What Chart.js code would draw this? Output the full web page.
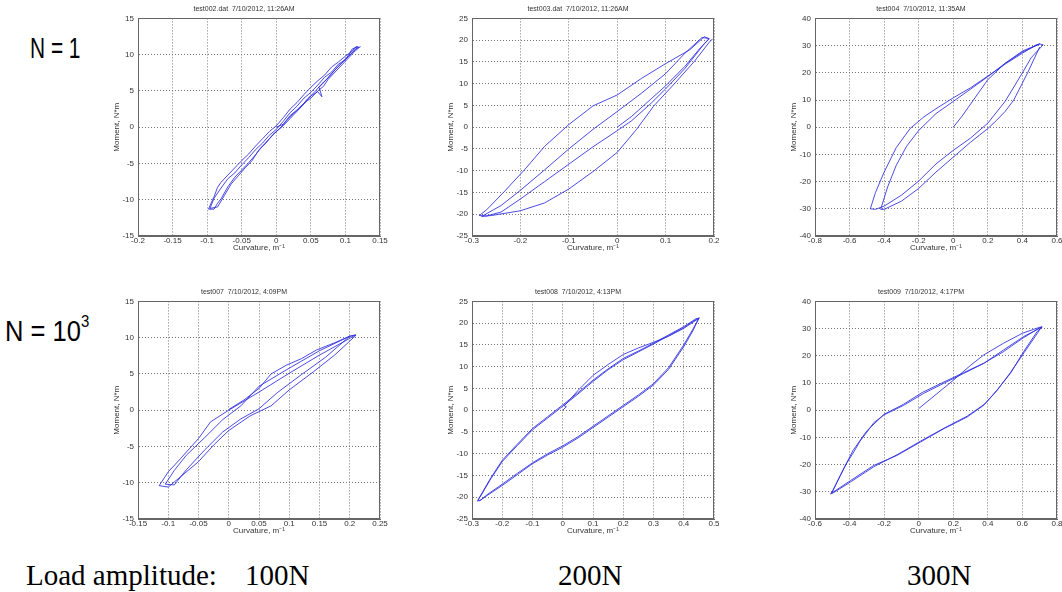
<!DOCTYPE html>
<html><head><meta charset="utf-8">
<script src="https://cdn.jsdelivr.net/npm/chart.js@4/dist/chart.umd.min.js"></script>
<style>
html,body{margin:0;padding:0;background:#fff;width:1062px;height:592px;overflow:hidden;position:relative}
canvas{position:absolute}
.rowlab{position:absolute;font-family:"Liberation Sans",Arial,sans-serif;font-size:29px;line-height:1;transform-origin:0 0;white-space:nowrap;color:#000}
.rowlab sup{font-size:17px;vertical-align:0;position:relative;top:-14px}
.bot{position:absolute;font-family:"Liberation Serif","Times New Roman",serif;font-size:29px;line-height:1;white-space:nowrap;color:#000}
</style></head><body>
<div class="rowlab" style="left:30px;top:34px;transform:scaleX(0.72)">N = 1</div>
<div class="rowlab" style="left:5px;top:317px;transform:scaleX(0.88)">N = 10<sup>3</sup></div>
<div class="bot" style="left:26px;top:561px">Load amplitude:</div>
<div class="bot" style="left:245px;top:561px">100N</div>
<div class="bot" style="left:558px;top:561px">200N</div>
<div class="bot" style="left:907px;top:561px">300N</div>
<canvas id="c1"></canvas><canvas id="c2"></canvas><canvas id="c3"></canvas>
<canvas id="c4"></canvas><canvas id="c5"></canvas><canvas id="c6"></canvas>
<script>
// ---- Panel titles ----
const titles = [
  'test002.dat  7/10/2012, 11:26AM',
  'test003.dat  7/10/2012, 11:26AM',
  'test004  7/10/2012, 11:35AM',
  'test007  7/10/2012, 4:09PM',
  'test008  7/10/2012, 4:13PM',
  'test009  7/10/2012, 4:17PM'
];
const xTitle = 'Curvature, m\u207B\u00B9';
const yTitle = 'Moment, N*m';

// ---- Tick labels ----
const p1XTicks = [-0.2,-0.15,-0.1,-0.05,0,0.05,0.1,0.15];
const p1YTicks = [-15,-10,-5,0,5,10,15];
const p2XTicks = [-0.3,-0.2,-0.1,0,0.1,0.2];
const p2YTicks = [-25,-20,-15,-10,-5,0,5,10,15,20,25];
const p3XTicks = [-0.8,-0.6,-0.4,-0.2,0,0.2,0.4,0.6];
const p3YTicks = [-40,-30,-20,-10,0,10,20,30,40];
const p4XTicks = [-0.15,-0.1,-0.05,0,0.05,0.1,0.15,0.2,0.25];
const p4YTicks = [-15,-10,-5,0,5,10,15];
const p5XTicks = [-0.3,-0.2,-0.1,0,0.1,0.2,0.3,0.4,0.5];
const p5YTicks = [-25,-20,-15,-10,-5,0,5,10,15,20,25];
const p6XTicks = [-0.6,-0.4,-0.2,0,0.2,0.4,0.6,0.8];
const p6YTicks = [-40,-30,-20,-10,0,10,20,30,40];

// ---- Series: curvature (m^-1) and moment (N*m), in recorded order ----
const p1Curvature = [0,0.01,0.02,0.03,0.04,0.05,0.06,0.068,0.075,0.085,0.095,0.105,0.115,0.12,
  0.115,0.11,0.10,0.09,0.08,0.07,0.06,0.05,0.04,0.03,0.02,0.01,0,-0.01,-0.02,-0.03,-0.04,-0.05,-0.06,-0.07,-0.08,-0.085,-0.09,-0.095,-0.098,
  -0.09,-0.085,-0.08,-0.07,-0.06,-0.05,-0.04,-0.03,-0.02,-0.01,0,0.01,0.02,0.03,0.04,0.05,0.06,0.066,0.062,0.07,0.08,0.09,0.10,0.11,0.118,
  0.11,0.10,0.09,0.08,0.07,0.06,0.05,0.04,0.03,0.02,0.01,0,-0.01,-0.02,-0.03,-0.04,-0.05,-0.06,-0.07,-0.08,-0.09,-0.096,
  -0.085,-0.075,-0.065,-0.055,-0.045,-0.035,-0.025,-0.015,-0.005,0.005,0.015,0.025,0.035,0.045,0.055,0.065,0.075,0.085,0.095,0.105,0.115,0.122];
const p1Moment = [0,0.4,1.6,2.4,3.3,4.0,5.0,5.6,6.6,7.6,8.6,9.6,10.6,11.0,
  11.1,10.5,9.8,9.0,8.3,7.2,6.4,5.5,4.5,3.4,2.5,1.3,0.2,-0.6,-1.6,-2.6,-3.7,-4.6,-5.6,-6.6,-7.6,-8.3,-9.6,-10.6,-11.3,
  -11.3,-10.5,-9.9,-8.2,-6.9,-5.9,-4.9,-3.8,-2.6,-1.6,-0.6,0.2,1.2,2.2,3.2,4.3,4.9,4.2,5.5,6.3,7.4,8.4,9.4,10.3,11.1,
  10.8,9.3,8.7,7.6,6.9,5.8,4.8,4.0,2.9,2.0,0.8,-0.3,-1.1,-2.2,-3.1,-4.2,-5.2,-6.3,-7.1,-8.4,-9.8,-11.2,
  -11.0,-9.4,-7.8,-6.7,-5.6,-4.6,-3.1,-2.2,-1.0,-0.2,0.9,1.9,2.7,3.9,4.8,5.9,6.8,7.9,8.9,9.8,10.8,11.1];

const p2Curvature = [0,0.03,0.06,0.1,0.14,0.17,0.19,
  0.18,0.15,0.1,0.05,0,-0.05,-0.1,-0.15,-0.19,-0.235,-0.27,-0.285,
  -0.27,-0.24,-0.2,-0.15,-0.1,-0.05,0,0.03,0.07,0.1,0.14,0.18,0.19,
  0.175,0.14,0.1,0.05,0,-0.05,-0.1,-0.15,-0.2,-0.24,-0.28,
  -0.26,-0.2,-0.15,-0.1,-0.05,0,0.04,0.075,0.12,0.16,0.19,0.197];
const p2Moment = [0,2.5,5.5,9.5,14,18,20.3,
  20.8,17.8,14.6,11.2,7.4,4.9,0.6,-4.4,-9.6,-15,-19,-20.3,
  -20.4,-19.5,-16.5,-12.5,-8.5,-4.5,-0.8,1.5,5.5,8.8,13.5,19.2,20.4,
  20.6,17,12.3,7.8,3.6,-0.5,-5,-9.8,-14.5,-18,-20.5,
  -20.3,-19.2,-17.4,-14.2,-10.2,-5.8,-0.5,4.8,10.2,15.2,19.5,20.3];

const p3Curvature = [0,0.05,0.1,0.15,0.2,0.3,0.4,0.5,
  0.48,0.4,0.3,0.2,0.1,0,-0.1,-0.17,-0.25,-0.33,-0.4,-0.45,-0.48,
  -0.45,-0.4,-0.3,-0.2,-0.1,0,0.1,0.2,0.3,0.4,0.45,0.52,
  0.5,0.4,0.3,0.2,0.1,0,-0.1,-0.2,-0.27,-0.33,-0.38,-0.42,
  -0.4,-0.3,-0.2,-0.1,0,0.1,0.2,0.25,0.3,0.35,0.43,0.5];
const p3Moment = [0,4,8.5,13,17.5,23.5,28,30.6,
  30.3,27.2,23.2,18.8,14.5,10.8,6.8,3.8,-0.5,-7.5,-16.5,-24,-30,
  -30.2,-29,-25,-19.8,-13.5,-8.5,-4,1.5,9.5,20,25.5,30.3,
  30.6,27.6,23.5,18.6,14,9.5,5,-1.2,-7,-14,-22,-30.2,
  -30.2,-27.2,-22.5,-16.5,-11,-5.5,-0.5,2.5,5.8,10,20,29.5];

const p4Curvature = [0,0.025,0.05,0.07,0.095,0.12,0.145,0.175,0.2,0.21,
  0.2,0.15,0.1,0.05,0,-0.03,-0.05,-0.08,-0.1,-0.115,
  -0.1,-0.08,-0.05,-0.025,0,0.035,0.07,0.1,0.14,0.175,0.21,
  0.2,0.15,0.1,0.05,0.02,-0.01,-0.04,-0.07,-0.09,-0.105,
  -0.09,-0.07,-0.04,-0.01,0.02,0.05,0.08,0.12,0.16,0.2];
const p4Moment = [0.1,1.4,3,5,6.2,7.1,8.3,9.3,10.2,10.4,
  9.9,7.6,5.1,2.5,0,-1.6,-3.9,-6.7,-8.5,-10.4,
  -10.6,-9.2,-7.1,-4.8,-2.8,-0.8,0.6,2.8,5.3,7.6,10.3,
  10.2,8.2,5.8,3.3,0.6,-1.3,-3.8,-6.2,-8.3,-10.2,
  -10.3,-8.2,-5.5,-3,-1.2,0.2,2.4,4.9,7.3,10.2];

const p5Curvature = [0,0.012,0.005,0.05,0.1,0.15,0.2,0.25,0.3,0.35,0.4,0.45,
  0.44,0.4,0.35,0.3,0.25,0.2,0.15,0.1,0.05,0,-0.05,-0.1,-0.15,-0.2,-0.24,-0.265,-0.28,
  -0.275,-0.25,-0.2,-0.15,-0.1,-0.05,0,0.05,0.1,0.15,0.2,0.25,0.3,0.35,0.4,0.43,0.45,
  0.44,0.4,0.35,0.3,0.25,0.2,0.15,0.1,0.05,0,-0.05,-0.1,-0.15,-0.2,-0.24,-0.265,-0.282,
  -0.27,-0.25,-0.2,-0.15,-0.1,-0.05,0,0.05,0.1,0.15,0.2,0.25,0.3,0.35,0.4,0.43,0.452];
const p5Moment = [0,0.8,1.0,4.5,8,10.5,12.8,14.3,15.6,17,18.8,21.1,
  21,19.2,17.3,15.4,13.6,11.9,9.5,6.9,4,1.2,-1.5,-4.2,-7.8,-11.5,-15.8,-18.8,-20.6,
  -20.8,-19.6,-17.3,-14.8,-12.3,-10.3,-8.5,-6.4,-4,-1.6,0.8,3.2,5.8,9.4,14.6,18.2,21.2,
  20.8,19,17.1,15.2,13.4,11.6,9.3,6.6,3.7,0.9,-1.8,-4.5,-8.1,-11.8,-16,-19,-20.9,
  -20.6,-19.4,-17,-14.5,-12.1,-10,-8.2,-6.1,-3.7,-1.3,1.1,3.5,6.1,9.8,15,18.6,21.3];

const p6Curvature = [0,0.1,0.2,0.3,0.376,0.49,0.6,0.7,
  0.714,0.608,0.492,0.376,0.26,0.145,0.029,-0.087,-0.203,-0.26,-0.299,-0.34,-0.376,-0.42,-0.453,-0.501,
  -0.511,-0.395,-0.26,-0.125,0.01,0.145,0.28,0.376,0.453,0.53,0.608,0.685,0.714,
  0.7,0.6,0.49,0.38,0.26,0.14,0.02,-0.09,-0.2,-0.3,-0.38,-0.45,-0.505,
  -0.5,-0.39,-0.26,-0.12,0.01,0.15,0.28,0.38,0.45,0.53,0.61,0.69,0.71];
const p6Moment = [0.6,5.8,11,16.5,20.3,24.6,28.3,30.5,
  30.6,27.1,22.2,17.2,13.5,9.9,6.2,1.8,-1.8,-4.6,-8,-11.4,-15.4,-19.8,-24,-30.2,
  -30.8,-25.9,-20.3,-16.6,-11.7,-6.8,-2.5,1.8,7.4,13.5,21.6,28.9,30.5,
  30.3,26.4,21.5,17.4,13.8,10.2,6.5,2.1,-1.5,-7.6,-14.8,-23.5,-30.5,
  -30.6,-26.2,-20.8,-16.2,-11.4,-6.5,-2.2,2.2,7,13.8,21.2,28.6,30.7];

// ---- build ----
const FONT = '"Liberation Sans", Arial, sans-serif';
const LINE = 'rgba(45,45,225,0.85)';
const PW = 242, PH = 216, YW = 30, XH = 20, TH = 19.6, RP = 14;
const fmt = v => String(Math.round(v*1000)/1000);

const boxPlugin = {
  id:'box',
  afterDraw(chart){
    const a = chart.chartArea, c = chart.ctx;
    c.save(); c.strokeStyle = '#666'; c.lineWidth = 1;
    c.strokeRect(Math.round(a.left)+0.5, Math.round(a.top)+0.5, Math.round(a.right-a.left)-1, Math.round(a.bottom-a.top)-1);
    c.restore();
  }
};

function makePanel(id, title, curv, mom, xt, yt, plotLeft, plotTop){
  const cv = document.getElementById(id);
  const w = YW + PW + RP, h = Math.round(TH + PH + XH);
  cv.width = w; cv.height = h;
  cv.style.width = w + 'px'; cv.style.height = h + 'px';
  cv.style.left = (plotLeft - YW) + 'px';
  cv.style.top = (plotTop - TH) + 'px';
  const pts = curv.map((x,i)=>({x, y: mom[i]}));
  new Chart(cv, {
    type:'scatter',
    data:{datasets:[{data:pts, showLine:true, borderColor:LINE, borderWidth:1, pointRadius:0, tension:0, fill:false}]},
    options:{
      responsive:false, animation:false, devicePixelRatio:1,
      layout:{padding:{left:0,right:RP,top:0,bottom:0}},
      plugins:{legend:{display:false}, tooltip:{enabled:false},
        title:{display:true, text:title, color:'#333', font:{family:FONT,size:7,weight:'normal'}, padding:{top:5,bottom:5}}},
      scales:{
        x:{type:'linear', min:xt[0], max:xt[xt.length-1],
          afterBuildTicks:s=>{ s.ticks = xt.map(v=>({value:v})); },
          afterFit:s=>{ s.height = XH; },
          ticks:{font:{family:FONT,size:8}, color:'#333', padding:0, maxRotation:0, autoSkip:false, callback:v=>fmt(v)},
          grid:{color:'#777', lineWidth:1, drawTicks:false},
          border:{display:true, color:'#666', dash:[1,2]},
          title:{display:true, text:xTitle, color:'#333', font:{family:FONT,size:8}, padding:{top:0,bottom:3}}},
        y:{type:'linear', min:yt[0], max:yt[yt.length-1],
          afterBuildTicks:s=>{ s.ticks = yt.map(v=>({value:v})); },
          afterFit:s=>{ s.width = YW; },
          ticks:{font:{family:FONT,size:8}, color:'#333', padding:4, autoSkip:false, callback:v=>fmt(v)},
          grid:{color:'#777', lineWidth:1, drawTicks:false},
          border:{display:true, color:'#666', dash:[1,2]},
          title:{display:true, text:yTitle, color:'#333', font:{family:FONT,size:8}, padding:{top:4,bottom:0}}}
      }
    },
    plugins:[boxPlugin]
  });
}

makePanel('c1', titles[0], p1Curvature, p1Moment, p1XTicks, p1YTicks, 138, 20);
makePanel('c2', titles[1], p2Curvature, p2Moment, p2XTicks, p2YTicks, 472, 20);
makePanel('c3', titles[2], p3Curvature, p3Moment, p3XTicks, p3YTicks, 815, 20);
makePanel('c4', titles[3], p4Curvature, p4Moment, p4XTicks, p4YTicks, 138, 303);
makePanel('c5', titles[4], p5Curvature, p5Moment, p5XTicks, p5YTicks, 472, 303);
makePanel('c6', titles[5], p6Curvature, p6Moment, p6XTicks, p6YTicks, 815, 303);
</script>
</body></html>
